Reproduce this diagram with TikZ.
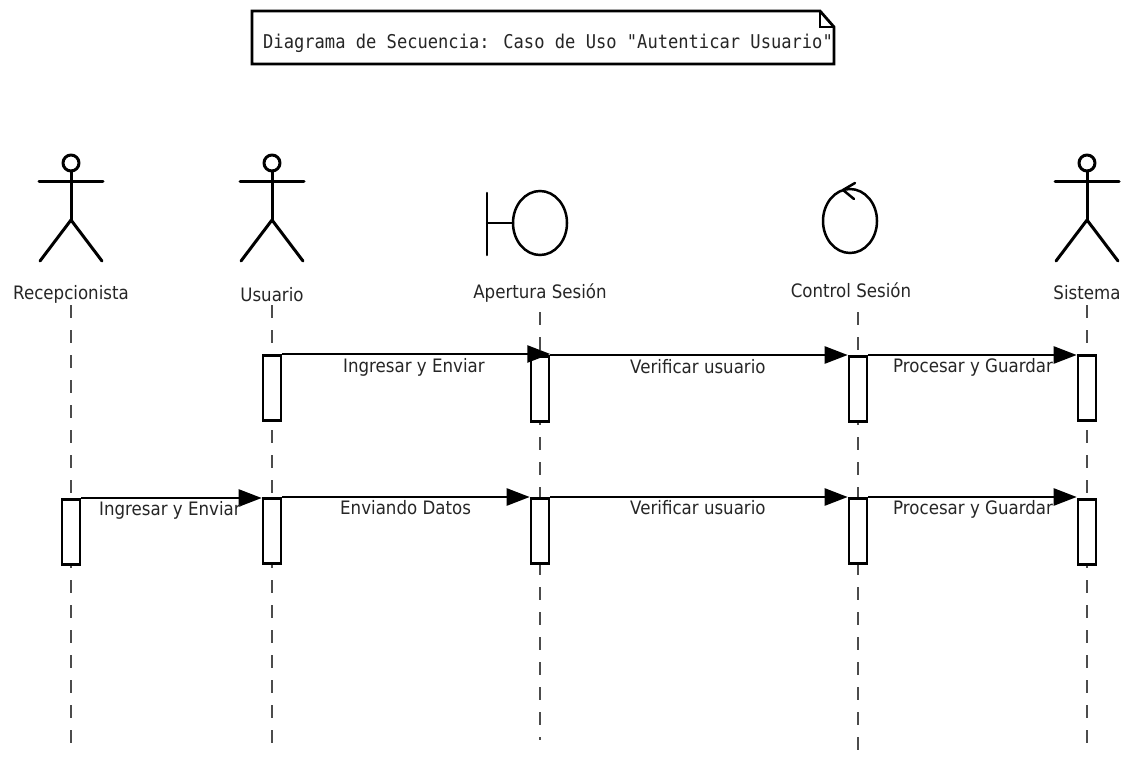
\documentclass[tikz,border=0pt]{standalone}
\usepackage{fontspec}
\setmainfont[FakeStretch=0.9]{DejaVu Sans}
\newfontfamily\titlemono[FakeStretch=0.9]{DejaVu Sans Mono}
\usetikzlibrary{arrows.meta}
\tikzset{
  fig/.style={line width=3pt, line cap=round, line join=round},
  lbl/.style={font=\fontsize{18.5}{20}\selectfont, inner sep=0pt, anchor=base, text=black!85},
  mlbl/.style={font=\fontsize{18.5}{20}\selectfont, inner sep=0pt, anchor=base west, text=black!85},
  life/.style={draw=black!70, line width=1.5pt, dash pattern=on 13pt off 12pt},
  act/.style={draw, line width=2.6pt, fill=white, minimum width=18pt, minimum height=65pt, inner sep=0pt, anchor=north},
  msg/.style={line width=2.5pt, -{Triangle[length=23pt,width=17pt]}},
  notebox/.style={line width=2.8pt, line join=miter},
}
\newcommand\stickfig[1]{%
  \draw[fig] (#1,163) circle[radius=8];
  \draw[fig] (#1-32,182) -- (#1+32,182);
  \draw[fig] (#1,171) -- (#1,220);
  \draw[fig] (#1-31,261) -- (#1,220) -- (#1+31,261);
}
\begin{document}
\begin{tikzpicture}[x=1pt,y=-1pt]
\useasboundingbox (0,0) rectangle (1131,759);
\fill[white] (0,0) rectangle (1131,759);

% title note
\draw[notebox] (252,11) -- (820,11) -- (834,27) -- (834,64) -- (252,64) -- cycle;
\draw[line width=2pt] (820,11) -- (820,27) -- (834,27);
\node[inner sep=0pt, anchor=base west, text=black!85, font=\titlemono\fontsize{19}{21}\selectfont] (title) at (263,49) {Diagrama de Secuencia: Caso de Uso "Autenticar Usuario"};

% actors
\stickfig{71}
\stickfig{272}
\stickfig{1087}
% boundary
\draw[fig, line width=2.5pt] (487,193) -- (487,255);
\draw[fig, line width=2.5pt] (487,223) -- (513,223);
\draw[line width=2.5pt] (540,223) ellipse[x radius=27, y radius=32];
% control
\draw[line width=2.5pt] (850,221) ellipse[x radius=27, y radius=32];
\draw[fig, line width=2.5pt] (855,183) -- (843,190) -- (854,199);

% labels
\node[lbl] (lRecep) at (71,299) {Recepcionista};
\node[lbl] (lUsu) at (272,301) {Usuario};
\node[lbl] (lApe) at (540,298) {Apertura Sesión};
\node[lbl] (lCon) at (851,297) {Control Sesión};
\node[lbl] (lSis) at (1087,299) {Sistema};

% lifelines
\coordinate (rTop) at (71,305);   \coordinate (rEnd) at (71,752);
\coordinate (uTop) at (272,305);  \coordinate (uEnd) at (272,748);
\coordinate (aTop) at (540,312);  \coordinate (aEnd) at (540,740);
\coordinate (cTop) at (858,312);  \coordinate (cEnd) at (858,758);
\coordinate (sTop) at (1087,305); \coordinate (sEnd) at (1087,748);
\draw[life] (rTop) -- (rEnd);
\draw[life] (uTop) -- (uEnd);
\draw[life] (aTop) -- (aEnd);
\draw[life] (cTop) -- (cEnd);
\draw[life] (sTop) -- (sEnd);

% activation boxes
\node[act] (u1) at (272,354) {};
\node[act] (a1) at (540,355) {};
\node[act] (c1) at (858,355) {};
\node[act] (s1) at (1087,354) {};
\node[act] (r2) at (71,498) {};
\node[act] (u2) at (272,497) {};
\node[act] (a2) at (540,497) {};
\node[act] (c2) at (858,497) {};
\node[act] (s2) at (1087,498) {};

% messages row 1
\draw[msg] (u1.north east) -- (a1.north east |- u1.north east);
\draw[msg] (a1.north east) -- (c1.north west);
\draw[msg] (c1.north east) -- (s1.north west |- c1.north east);
\node[mlbl] (m1) at (343,372) {Ingresar y Enviar};
\node[mlbl] (m2) at (630,373) {Verificar usuario};
\node[mlbl] (m3) at (893,372) {Procesar y Guardar};

% messages row 2
\draw[msg] (r2.north east) -- (u2.north west |- r2.north east);
\draw[msg] (u2.north east) -- (a2.north west);
\draw[msg] (a2.north east) -- (c2.north west);
\draw[msg] (c2.north east) -- (s2.north west |- c2.north east);
\node[mlbl] (m4) at (99,515) {Ingresar y Enviar};
\node[mlbl] (m5) at (340,514) {Enviando Datos};
\node[mlbl] (m6) at (630,514) {Verificar usuario};
\node[mlbl] (m7) at (893,514) {Procesar y Guardar};
\end{tikzpicture}
\end{document}
